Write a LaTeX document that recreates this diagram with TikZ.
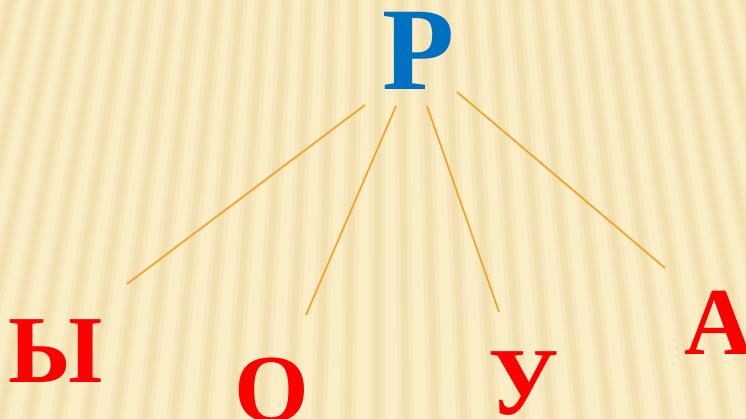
\documentclass[tikz,border=0pt]{standalone}
\usepackage{fontspec}
\setmainfont{Liberation Serif}
\definecolor{bgbase}{HTML}{FBEDC6}
\definecolor{stripecol}{HTML}{E0C078}
\definecolor{lineor}{HTML}{EFA52E}
\definecolor{pblue}{HTML}{0070C0}
\definecolor{lred}{HTML}{FF0000}
\tikzset{
  letter/.style={font=\fontsize{96}{100}\selectfont\bfseries, text=lred, inner sep=0pt, anchor=base, text height=64pt, text depth=0pt},
  bigletter/.style={font=\fontsize{118}{120}\selectfont\bfseries, text=pblue, inner sep=0pt, anchor=base, text height=78pt, text depth=0pt},
  branch/.style={draw=lineor, line width=1.8pt},
  stripewide/.style={draw=stripecol, line width=16pt, opacity=0.12},
  stripenarrow/.style={draw=stripecol, line width=7pt, opacity=0.16}
}
\begin{document}
\begin{tikzpicture}[x=1pt,y=1pt]
\useasboundingbox (0,0) rectangle (746,419);
\fill[bgbase] (0,0) rectangle (746,419);
\begin{scope}
  \clip (0,0) rectangle (746,419);
  \foreach \i in {-20,...,45} {
    \draw[stripewide] (380,2000) -- (\i*29,0);
    \draw[stripenarrow] (380,2000) -- (\i*29,0);
  }
\end{scope}
% letters
\node[bigletter] (P) at (419,329) {Р};
\node[letter] (Y1) at (56,36) {Ы};
\node[letter] (O) at (272,-3) {О};
\node[letter] (U) at (524,4) {У};
\node[letter] (A) at (719,64) {А};
% connector ends
\coordinate (p1) at (365,314);
\coordinate (p2) at (396,313);
\coordinate (p3) at (427,313);
\coordinate (p4) at (457,327);
\coordinate (e1) at (127,135);
\coordinate (e2) at (306,104);
\coordinate (e3) at (499,107);
\coordinate (e4) at (665,151);
\draw[branch] (p1) -- (e1);
\draw[branch] (p2) -- (e2);
\draw[branch] (p3) -- (e3);
\draw[branch] (p4) -- (e4);
\end{tikzpicture}
\end{document}
